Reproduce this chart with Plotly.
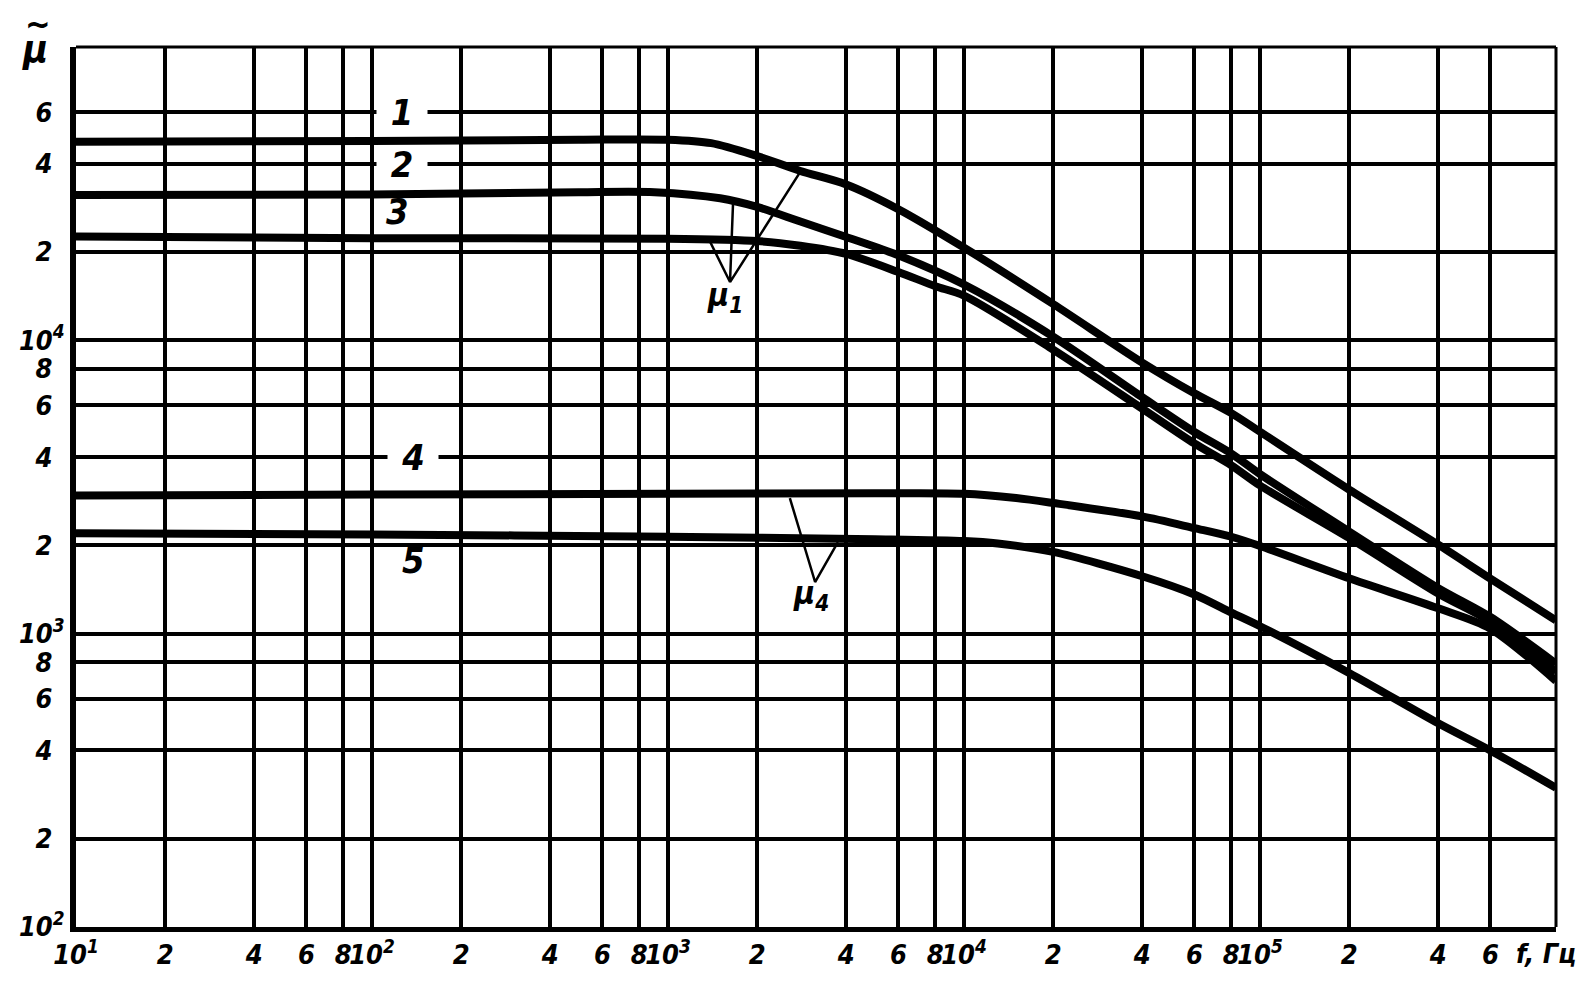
import math

import plotly.graph_objects as go

# frequency, Hz
F1 = [10, 100, 500, 1000, 1400, 2000, 2800, 4000, 6000, 10000, 20000, 40000, 60000, 80000, 100000, 200000, 400000, 600000, 1000000]
MU1 = [47500, 47800, 48300, 48300, 47000, 42500, 37800, 34000, 28000, 20700, 13300, 8400, 6600, 5650, 4880, 3100, 2010, 1540, 1110]

F2 = [10, 100, 500, 900, 1500, 2000, 2800, 4000, 6000, 10000, 20000, 40000, 60000, 80000, 100000, 200000, 400000, 600000, 1000000]
MU2 = [31300, 31400, 32000, 32000, 30500, 28500, 25400, 22500, 19500, 15500, 10300, 6400, 4870, 4110, 3500, 2230, 1430, 1140, 790]

F3 = [10, 100, 1000, 2000, 2800, 4000, 6000, 8000, 10000, 20000, 40000, 60000, 80000, 100000, 200000, 400000, 600000, 1000000]
MU3 = [22600, 22300, 22200, 21800, 21000, 19700, 17100, 15300, 14200, 9300, 5850, 4450, 3750, 3200, 2120, 1370, 1100, 740]

F4 = [10, 100, 1000, 5000, 10000, 15000, 20000, 40000, 60000, 80000, 100000, 200000, 400000, 600000, 1000000]
MU4 = [2960, 2980, 3000, 3010, 3000, 2900, 2790, 2510, 2290, 2140, 1990, 1545, 1220, 1040, 690]

F5 = [10, 100, 1000, 5000, 10000, 13000, 20000, 40000, 60000, 80000, 100000, 200000, 400000, 600000, 1000000]
MU5 = [2200, 2180, 2140, 2100, 2070, 2030, 1900, 1570, 1360, 1180, 1060, 735, 495, 400, 298]

X_TICKS = [10, 20, 40, 60, 80, 100, 200, 400, 600, 800, 1e3, 2e3, 4e3, 6e3, 8e3,
           1e4, 2e4, 4e4, 6e4, 8e4, 1e5, 2e5, 4e5, 6e5]
X_TEXT = ["10<sup>1</sup>", "2", "4", "6", "8", "10<sup>2</sup>", "2", "4", "6", "8",
          "10<sup>3</sup>", "2", "4", "6", "8", "10<sup>4</sup>", "2", "4", "6", "8",
          "10<sup>5</sup>", "2", "4", "6"]
X_UNIT = "f, Гц"
SP = "\u2002"
Y_TICKS = [100, 200, 400, 600, 800, 1e3, 2e3, 4e3, 6e3, 8e3, 1e4, 2e4, 4e4, 6e4]
Y_TEXT = ["10<sup>2</sup>", "2" + SP, "4" + SP, "6" + SP, "8" + SP, "10<sup>3</sup>",
          "2" + SP, "4" + SP, "6" + SP, "8" + SP, "10<sup>4</sup>", "2" + SP, "4" + SP, "6" + SP]

# curve numbers: text, f, mu, gap in gridline
CURVE_LABELS = ["1", "2", "3", "4", "5"]
LABEL_F = [126, 126, 122, 138, 138]
LABEL_MU = [60000, 40000, 27400, 4000, 1775]
LABEL_GAP = [True, True, False, True, False]

# leader lines for mu1 and mu4
MU1_PTR_F = [1390, 1620, 1660, 1620, 2840]
MU1_PTR_MU = [21600, 15800, 30000, 15800, 38400]
MU4_PTR_F = [2580, 3140, 3750]
MU4_PTR_MU = [2900, 1500, 2050]
MU1_TEXT_POS = (1560, 14000)
MU4_TEXT_POS = (3050, 1350)

FONT = "DejaVu Sans Condensed, DejaVu Sans"
BLACK = "#000000"

fig = go.Figure()

for f, mu in [(F1, MU1), (F2, MU2), (F3, MU3), (F4, MU4), (F5, MU5)]:
    fig.add_trace(go.Scatter(x=f, y=mu, mode="lines",
                             line=dict(color=BLACK, width=8, shape="spline", smoothing=0.8)))

for f, mu in [(MU1_PTR_F, MU1_PTR_MU), (MU4_PTR_F, MU4_PTR_MU)]:
    fig.add_trace(go.Scatter(x=f, y=mu, mode="lines", line=dict(color=BLACK, width=2.5)))

label_font = dict(family=FONT, size=36, color=BLACK, weight="bold", style="italic")
for text, f, mu, gap in zip(CURVE_LABELS, LABEL_F, LABEL_MU, LABEL_GAP):
    fig.add_annotation(x=math.log10(f), y=math.log10(mu), text=text, showarrow=False,
                       font=label_font, bgcolor="white" if gap else None,
                       width=50 if gap else None, height=30 if gap else None, borderpad=0)

for text, (f, mu) in [("μ<sub>1</sub>", MU1_TEXT_POS), ("μ<sub>4</sub>", MU4_TEXT_POS)]:
    fig.add_annotation(x=math.log10(f), y=math.log10(mu), text=text, showarrow=False,
                       font=dict(family=FONT, size=32, color=BLACK, weight="bold", style="italic"))

# axis symbol: mu with a tilde above it, left of the top corner
fig.add_annotation(xref="paper", yref="paper", x=-0.026, y=1.026, text="~", showarrow=False,
                   xanchor="center", yanchor="middle",
                   font=dict(family=FONT, size=34, color=BLACK, weight="bold"))
fig.add_annotation(xref="paper", yref="paper", x=-0.028, y=0.998, text="μ", showarrow=False,
                   xanchor="center", yanchor="middle",
                   font=dict(family=FONT, size=38, color=BLACK, weight="bold", style="italic"))
# unit label at the right end of the frequency axis
fig.add_annotation(xref="paper", yref="paper", x=0.993, y=-0.03, text=X_UNIT, showarrow=False,
                   xanchor="center", yanchor="middle",
                   font=dict(family=FONT, size=27, color=BLACK, weight="bold", style="italic"))

# top and right frame edges
fig.add_shape(type="line", xref="paper", yref="paper", x0=0, x1=1, y0=1, y1=1,
              line=dict(color=BLACK, width=3))
fig.add_shape(type="line", xref="paper", yref="paper", x0=1, x1=1, y0=0, y1=1,
              line=dict(color=BLACK, width=3))

tick_font = dict(family=FONT, size=27, color=BLACK, weight="bold", style="italic")
fig.update_xaxes(type="log", range=[1, 6], tickvals=X_TICKS, ticktext=X_TEXT, tickangle=0,
                 showgrid=True, gridcolor=BLACK, gridwidth=3.5,
                 showline=True, linecolor=BLACK, linewidth=5, automargin=False,
                 ticks="", tickfont=tick_font, ticklabelstandoff=0, zeroline=False)
fig.update_yaxes(type="log", range=[2, 5], tickvals=Y_TICKS, ticktext=Y_TEXT,
                 showgrid=True, gridcolor=BLACK, gridwidth=3.5,
                 showline=True, linecolor=BLACK, linewidth=6, automargin=False,
                 ticks="", tickfont=tick_font, ticklabelstandoff=0, zeroline=False)

# the page puts the figure 8 px in from the top-left corner
fig.update_layout(width=1579, height=975, showlegend=False,
                  margin=dict(l=68, r=31, t=39, b=56),
                  paper_bgcolor="white", plot_bgcolor="white")

fig.write_html("out.html")
